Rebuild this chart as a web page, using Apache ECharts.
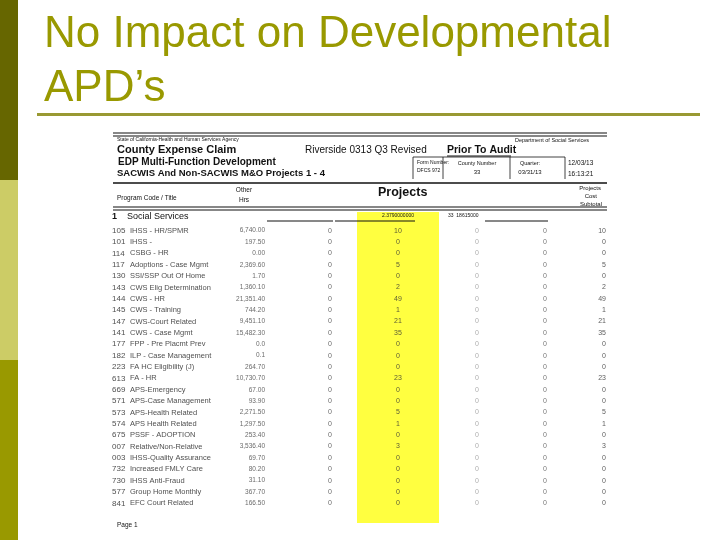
<!DOCTYPE html>
<html><head><meta charset="utf-8">
<script src="https://cdn.jsdelivr.net/npm/echarts@6/dist/echarts.min.js"></script>
<style>html,body{margin:0;padding:0;background:#fff}#c{width:720px;height:540px}</style>
</head><body><div id="c"></div>
<script>
// ---- data ----
const titleText = "No Impact on Developmental\nAPD\u2019s";
const codes = ['105','101','114','117','130','143','144','145','147','141','177','182','223','613','669','571','573','574','675','007','003','732','730','577','841'];
const titles = ['IHSS - HR/SPMR','IHSS -','CSBG - HR','Adoptions - Case Mgmt','SSI/SSP Out Of Home','CWS Elig Determination','CWS - HR','CWS - Training','CWS-Court Related','CWS - Case Mgmt','FPP - Pre Placmt Prev','ILP - Case Management','FA HC Eligibility (J)','FA - HR','APS-Emergency','APS-Case Management','APS-Health Related','APS Health Related','PSSF - ADOPTION','Relative/Non-Relative','IHSS-Quality Assurance','Increased FMLY Care','IHSS Anti-Fraud','Group Home Monthly','EFC Court Related'];
const otherHrs = ['6,740.00','197.50','0.00','2,369.60','1.70','1,360.10','21,351.40','744.20','9,451.10','15,482.30','0.0','0.1','264.70','10,730.70','67.00','93.90','2,271.50','1,297.50','253.40','3,536.40','69.70','80.20','31.10','367.70','166.50'];
const project1 = [0,0,0,0,0,0,0,0,0,0,0,0,0,0,0,0,0,0,0,0,0,0,0,0,0];
const project2 = [10,0,0,5,0,2,49,1,21,35,0,0,0,23,0,0,5,1,0,3,0,0,0,0,0];
const project3 = [0,0,0,0,0,0,0,0,0,0,0,0,0,0,0,0,0,0,0,0,0,0,0,0,0];
const project4 = [0,0,0,0,0,0,0,0,0,0,0,0,0,0,0,0,0,0,0,0,0,0,0,0,0];
const subtotal = [10,0,0,5,0,2,49,1,21,35,0,0,0,23,0,0,5,1,0,3,0,0,0,0,0];

// ---- layout ----
const FF = '"Liberation Sans", Arial, sans-serif';
const columns = [
  {arr: codes,    x: 112, align: 'left',   size: 8,   color: '#222'},
  {arr: titles,   x: 130, align: 'left',   size: 7.5, color: '#222'},
  {arr: otherHrs, x: 265, align: 'right',  size: 6.5, color: '#444'},
  {arr: project1, x: 330, align: 'center', size: 7,   color: '#444'},
  {arr: project2, x: 398, align: 'center', size: 7,   color: '#333'},
  {arr: project3, x: 477, align: 'center', size: 7,   color: '#999'},
  {arr: project4, x: 545, align: 'center', size: 7,   color: '#555'},
  {arr: subtotal, x: 606, align: 'right',  size: 7,   color: '#333'}
];

function txt(x, y, text, size, opts) {
  opts = opts || {};
  return {type: 'text', x: x, y: y, z: 5, silent: true,
    style: {text: text, fontSize: size, fontFamily: FF, fontWeight: opts.bold ? 'bold' : 'normal',
      fill: opts.color || '#111', align: opts.align || 'left', verticalAlign: 'middle',
      lineHeight: opts.lh || size + 2}};
}
function ln(x1, y1, x2, y2, w, c) {
  return {type: 'line', z: 4, silent: true, shape: {x1: x1, y1: y1, x2: x2, y2: y2}, style: {stroke: c || '#111', lineWidth: w || 1}};
}
function rect(x, y, w, h, fill, z) {
  return {type: 'rect', z: z || 1, silent: true, shape: {x: x, y: y, width: w, height: h}, style: {fill: fill}};
}

const graphics = [
  rect(0, 0, 18, 180, '#666600'),
  rect(0, 180, 18, 180, '#cccc66'),
  rect(0, 360, 18, 180, '#999900'),
  rect(37, 113, 663, 3, '#999933'),
  rect(357, 212, 82, 311, '#ffff40', 0),
  // table header
  ln(113, 133, 607, 133, 1.2), ln(113, 136, 607, 136, 1.2),
  txt(117, 140, 'State of California-Health and Human Services Agency', 5),
  txt(515, 140, 'Department of Social Services', 5.5),
  txt(117, 150, 'County Expense Claim', 11, {bold: true}),
  txt(305, 150, 'Riverside 0313 Q3 Revised', 10),
  txt(447, 150, 'Prior To Audit', 10.5, {bold: true}),
  ln(447, 156, 511, 156, 1),
  txt(118, 162, 'EDP Multi-Function Development', 10, {bold: true}),
  txt(117, 173, 'SACWIS And Non-SACWIS M&O Projects 1 - 4', 9.5, {bold: true}),
  ln(413, 157, 565, 157, 0.8),
  ln(413, 157, 413, 179, 0.8), ln(443, 157, 443, 179, 0.8), ln(510, 157, 510, 179, 0.8), ln(565, 157, 565, 179, 0.8),
  txt(417, 163, 'Form Number:', 5),
  txt(417, 171, 'DFCS 972', 5),
  txt(477, 163, 'County Number', 5.5, {align: 'center'}),
  txt(477, 172, '33', 6, {align: 'center'}),
  txt(530, 163, 'Quarter:', 5.5, {align: 'center'}),
  txt(530, 172, '03/31/13', 6, {align: 'center'}),
  txt(568, 163, '12/03/13', 6.5),
  txt(568, 174, '16:13:21', 6.5),
  ln(113, 183, 607, 183, 1.5),
  txt(117, 198, 'Program Code / Title', 6.5),
  txt(244, 190, 'Other', 6.5, {align: 'center'}),
  txt(244, 200, 'Hrs', 6.5, {align: 'center'}),
  txt(378, 193, 'Projects', 12.5, {bold: true}),
  txt(601, 188, 'Projects', 6, {align: 'right'}),
  txt(597, 196, 'Cost', 6, {align: 'right'}),
  txt(602, 204, 'Subtotal', 6, {align: 'right'}),
  ln(113, 207, 607, 207, 1.2), ln(113, 210, 607, 210, 1.2),
  txt(112, 217, '1', 9, {bold: true}),
  txt(127, 217, 'Social Services', 9),
  txt(398, 216, '2.3790000000', 5, {align: 'center'}),
  txt(448, 216, '33  18615000', 5),
  ln(267, 221, 333, 221, 1), ln(335, 221, 415, 221, 1), ln(485, 221, 548, 221, 1),
  txt(117, 525, 'Page 1', 6.5)
];

const series = columns.map(function (col) {
  return {
    type: 'scatter', silent: true, symbol: 'circle', symbolSize: 1,
    itemStyle: {color: 'rgba(0,0,0,0)'},
    data: col.arr.map(function (v, i) { return [col.x, i]; }),
    label: {show: true, position: 'inside', align: col.align, verticalAlign: 'middle',
      fontSize: col.size, fontFamily: FF, color: col.color,
      formatter: function (p) { return String(col.arr[p.dataIndex]); }},
    labelLayout: {hideOverlap: false},
    z: 6
  };
});

const chart = echarts.init(document.getElementById('c'), null, {renderer: 'canvas'});
chart.setOption({
  animation: false,
  backgroundColor: '#ffffff',
  title: {text: titleText, left: 44, top: 8, padding: 0,
    textStyle: {fontSize: 44, fontFamily: FF, fontWeight: 'normal', color: '#999900', lineHeight: 54}},
  grid: {left: 0, right: 0, top: 225, height: 284},
  xAxis: {type: 'value', min: 0, max: 720, show: false},
  yAxis: {type: 'category', data: codes.map(function (c, i) { return i; }), inverse: true, show: false},
  graphic: graphics,
  series: series
});
</script></body></html>
